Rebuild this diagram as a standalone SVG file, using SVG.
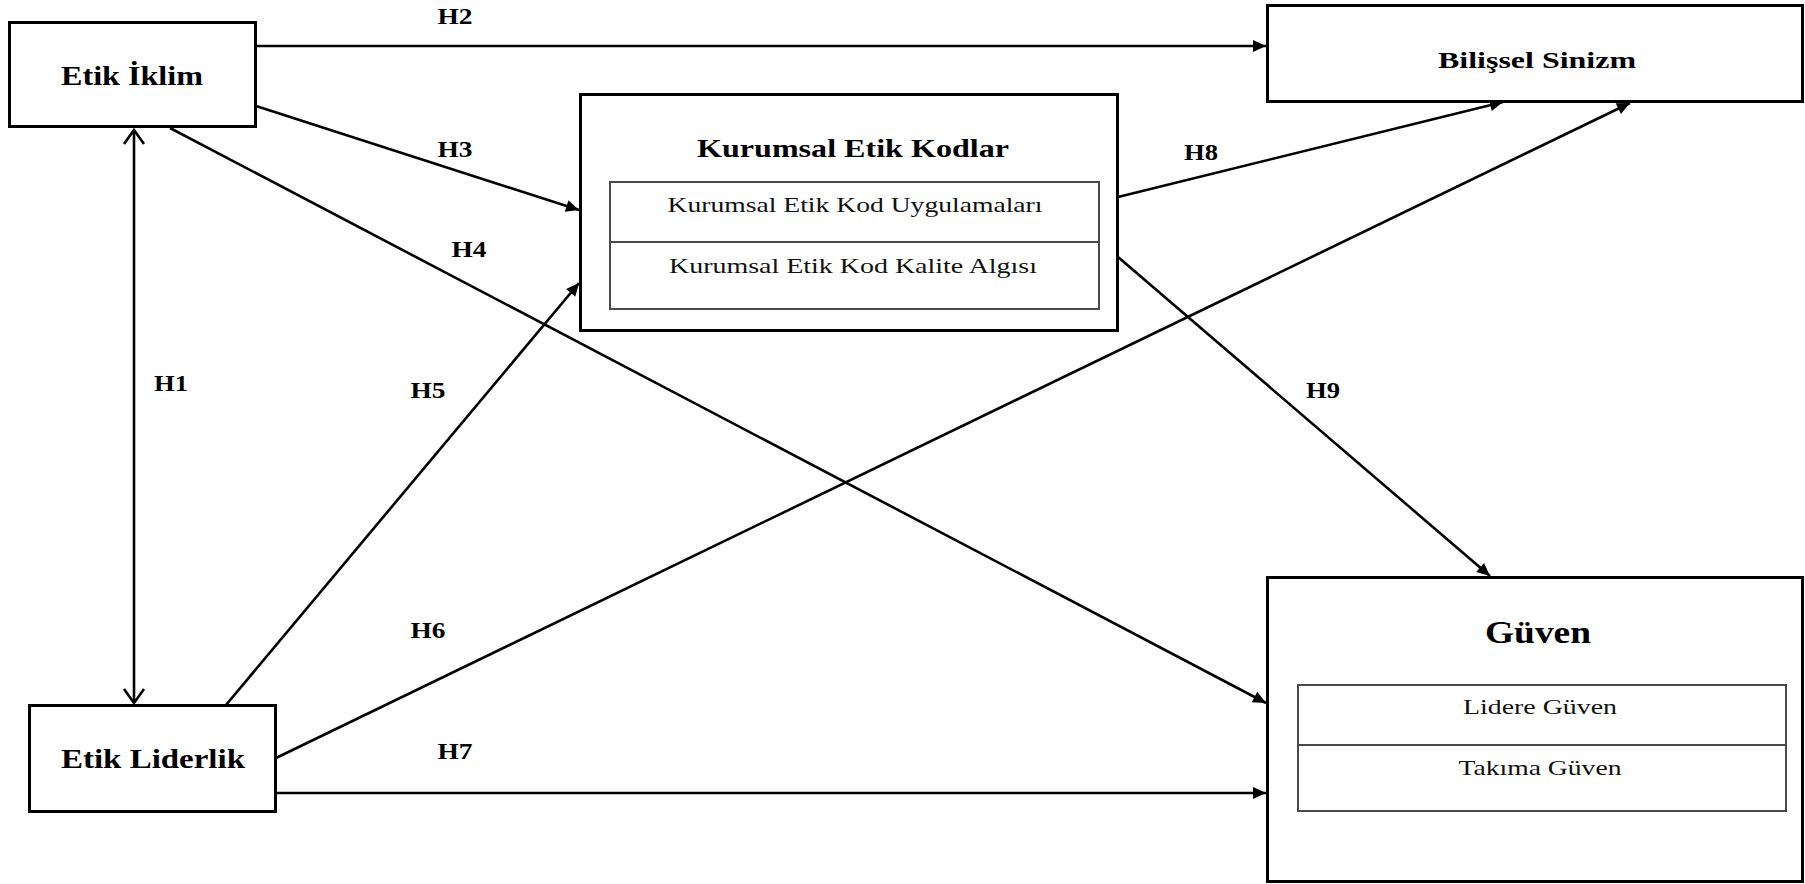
<svg xmlns="http://www.w3.org/2000/svg" width="1805" height="884" viewBox="0 0 1805 884">
  <defs>
    <style>
      .box { fill: #ffffff; stroke: #000000; stroke-width: 3; }
      .inner { fill: none; stroke: #4a4a4a; stroke-width: 2; }
      .link { fill: none; stroke: #000000; stroke-width: 2.6; }
      .title { font-family: "Liberation Serif", "Times New Roman", serif; font-weight: bold; fill: #000000; text-anchor: middle; }
      .sub { font-family: "Liberation Serif", "Times New Roman", serif; font-size: 22px; fill: #111111; text-anchor: middle; }
      .hyp { font-family: "Liberation Serif", "Times New Roman", serif; font-weight: bold; font-size: 23px; fill: #000000; text-anchor: middle; }
    </style>
    <marker id="arrow" markerUnits="userSpaceOnUse" markerWidth="14" markerHeight="12" refX="13" refY="6" orient="auto" overflow="visible">
      <path d="M0,0 L13,6 L0,12 Z" fill="#000000"/>
    </marker>
    <marker id="open" markerUnits="userSpaceOnUse" markerWidth="16" markerHeight="22" refX="15" refY="10" orient="auto-start-reverse" overflow="visible">
      <path d="M1,0 L15,10 L1,20" fill="none" stroke="#000000" stroke-width="2.6"/>
    </marker>
  </defs>

  <rect width="1805" height="884" fill="#ffffff"/>

  <!-- connectors -->
  <g id="connectors">
    <line class="link" x1="134" y1="130" x2="134" y2="703" marker-start="url(#open)" marker-end="url(#open)"/>
    <line class="link" x1="256" y1="46" x2="1266" y2="46" marker-end="url(#arrow)"/>
    <line class="link" x1="256" y1="106" x2="579" y2="210" marker-end="url(#arrow)"/>
    <line class="link" x1="170" y1="128" x2="1266" y2="703" marker-end="url(#arrow)"/>
    <line class="link" x1="226" y1="705" x2="579" y2="283" marker-end="url(#arrow)"/>
    <line class="link" x1="276" y1="758" x2="1630" y2="103" marker-end="url(#arrow)"/>
    <line class="link" x1="276" y1="793" x2="1266" y2="793" marker-end="url(#arrow)"/>
    <line class="link" x1="1118" y1="197" x2="1503" y2="102" marker-end="url(#arrow)"/>
    <line class="link" x1="1118" y1="257" x2="1490" y2="576" marker-end="url(#arrow)"/>

    <text class="hyp" x="171" y="391" textLength="34" lengthAdjust="spacingAndGlyphs">H1</text>
    <text class="hyp" x="455" y="24" textLength="35" lengthAdjust="spacingAndGlyphs">H2</text>
    <text class="hyp" x="455" y="157" textLength="35" lengthAdjust="spacingAndGlyphs">H3</text>
    <text class="hyp" x="469" y="257" textLength="35" lengthAdjust="spacingAndGlyphs">H4</text>
    <text class="hyp" x="428" y="398" textLength="35" lengthAdjust="spacingAndGlyphs">H5</text>
    <text class="hyp" x="428" y="638" textLength="35" lengthAdjust="spacingAndGlyphs">H6</text>
    <text class="hyp" x="455" y="759" textLength="35" lengthAdjust="spacingAndGlyphs">H7</text>
    <text class="hyp" x="1201" y="160" textLength="34" lengthAdjust="spacingAndGlyphs">H8</text>
    <text class="hyp" x="1323" y="398" textLength="34" lengthAdjust="spacingAndGlyphs">H9</text>
  </g>

  <!-- Etik İklim -->
  <g id="etik-iklim">
    <rect class="box" x="9.5" y="22.5" width="246" height="104"/>
    <text class="title" x="132" y="85" font-size="28" textLength="142" lengthAdjust="spacingAndGlyphs">Etik İklim</text>
  </g>

  <!-- Etik Liderlik -->
  <g id="etik-liderlik">
    <rect class="box" x="29.5" y="705.5" width="246" height="106"/>
    <text class="title" x="153" y="768" font-size="28" textLength="184" lengthAdjust="spacingAndGlyphs">Etik Liderlik</text>
  </g>

  <!-- Kurumsal Etik Kodlar -->
  <g id="kurumsal-etik-kodlar">
    <rect class="box" x="580.5" y="94.5" width="537" height="236"/>
    <text class="title" x="853" y="157" font-size="26" textLength="312" lengthAdjust="spacingAndGlyphs">Kurumsal Etik Kodlar</text>
    <rect class="inner" x="610" y="182" width="489" height="127"/>
    <line class="inner" x1="610" y1="242" x2="1099" y2="242"/>
    <text class="sub" x="855" y="212" textLength="375" lengthAdjust="spacingAndGlyphs">Kurumsal Etik Kod Uygulamaları</text>
    <text class="sub" x="853" y="273" textLength="368" lengthAdjust="spacingAndGlyphs">Kurumsal Etik Kod Kalite Algısı</text>
  </g>

  <!-- Bilişsel Sinizm -->
  <g id="bilissel-sinizm">
    <rect class="box" x="1267.5" y="5.5" width="535" height="96"/>
    <text class="title" x="1537" y="68" font-size="24" textLength="198" lengthAdjust="spacingAndGlyphs">Bilişsel Sinizm</text>
  </g>

  <!-- Güven -->
  <g id="guven">
    <rect class="box" x="1267.5" y="577.5" width="535" height="304"/>
    <text class="title" x="1538" y="643" font-size="32" textLength="106" lengthAdjust="spacingAndGlyphs">Güven</text>
    <rect class="inner" x="1298" y="685" width="488" height="126"/>
    <line class="inner" x1="1298" y1="745" x2="1786" y2="745"/>
    <text class="sub" x="1540" y="714" textLength="154" lengthAdjust="spacingAndGlyphs">Lidere Güven</text>
    <text class="sub" x="1540" y="775" textLength="163" lengthAdjust="spacingAndGlyphs">Takıma Güven</text>
  </g>
</svg>
